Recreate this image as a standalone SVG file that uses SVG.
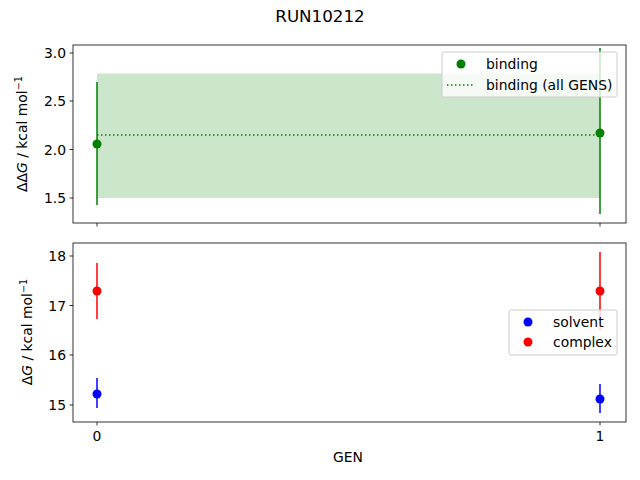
<svg xmlns="http://www.w3.org/2000/svg" width="640" height="480" viewBox="0 0 640 480">
<style>
text{font-family:"DejaVu Sans",sans-serif;font-size:13.9px;fill:#000}
.ax{fill:none;stroke:#000;stroke-width:0.8}
.tk{stroke:#000;stroke-width:0.8}
.leg{fill:#fff;fill-opacity:0.8;stroke:#ccc;stroke-width:1}
</style>
<rect width="640" height="480" fill="#fff"/>
<text x="320" y="22" text-anchor="middle" style="font-size:16.7px">RUN10212</text>
<g id="top-axes">
<rect x="97" y="73.5" width="503" height="124.5" fill="#008000" fill-opacity="0.2"/>
<line x1="97" y1="135" x2="600" y2="135" stroke="#008000" stroke-width="1.5" stroke-dasharray="1.5,2.5"/>
<line x1="97" y1="82" x2="97" y2="205" stroke="#008000" stroke-width="1.5"/>
<line x1="600" y1="48" x2="600" y2="214" stroke="#008000" stroke-width="1.5"/>
<circle cx="97" cy="144" r="4.5" fill="#008000"/>
<circle cx="600" cy="133" r="4.5" fill="#008000"/>
<rect class="ax" x="73" y="45" width="553" height="178"/>
<g class="tk"><line x1="69.5" y1="53" x2="73" y2="53"/><line x1="69.5" y1="101" x2="73" y2="101"/><line x1="69.5" y1="149.5" x2="73" y2="149.5"/><line x1="69.5" y1="198" x2="73" y2="198"/><line x1="97" y1="223" x2="97" y2="226.5"/><line x1="600" y1="223" x2="600" y2="226.5"/></g>
<g text-anchor="end"><text x="66" y="58">3.0</text><text x="66" y="106">2.5</text><text x="66" y="154.5">2.0</text><text x="66" y="203">1.5</text></g>
<text transform="translate(27,134) rotate(-90)" text-anchor="middle">ΔΔ<tspan font-style="italic">G</tspan> / kcal mol<tspan dy="-5" style="font-size:9.7px">−1</tspan></text>
<g id="legend-top">
<rect class="leg" x="442" y="52" width="175" height="45" rx="2"/>
<circle cx="461" cy="64" r="4.5" fill="#008000"/>
<text x="486" y="69">binding</text>
<line x1="447" y1="85" x2="475" y2="85" stroke="#008000" stroke-width="1.5" stroke-dasharray="1.5,2.5"/>
<text x="486" y="90">binding (all GENS)</text>
</g>
</g>
<g id="bottom-axes">
<line x1="97" y1="263" x2="97" y2="319" stroke="#ff0000" stroke-width="1.5"/>
<line x1="600" y1="252" x2="600" y2="330" stroke="#ff0000" stroke-width="1.5"/>
<line x1="97" y1="378" x2="97" y2="408" stroke="#0000ff" stroke-width="1.5"/>
<line x1="600" y1="384" x2="600" y2="413" stroke="#0000ff" stroke-width="1.5"/>
<circle cx="97" cy="291" r="4.5" fill="#ff0000"/>
<circle cx="600" cy="291" r="4.5" fill="#ff0000"/>
<circle cx="97" cy="394" r="4.5" fill="#0000ff"/>
<circle cx="600" cy="399" r="4.5" fill="#0000ff"/>
<rect class="ax" x="73" y="243" width="553" height="179"/>
<g class="tk"><line x1="69.5" y1="256" x2="73" y2="256"/><line x1="69.5" y1="305.5" x2="73" y2="305.5"/><line x1="69.5" y1="355" x2="73" y2="355"/><line x1="69.5" y1="405" x2="73" y2="405"/><line x1="97" y1="422" x2="97" y2="425.5"/><line x1="600" y1="422" x2="600" y2="425.5"/></g>
<g text-anchor="end"><text x="66" y="261">18</text><text x="66" y="310.5">17</text><text x="66" y="360">16</text><text x="66" y="410">15</text></g>
<text x="97" y="441" text-anchor="middle">0</text>
<text x="600" y="441" text-anchor="middle">1</text>
<text x="348" y="462" text-anchor="middle">GEN</text>
<text transform="translate(32,332) rotate(-90)" text-anchor="middle">Δ<tspan font-style="italic">G</tspan> / kcal mol<tspan dy="-5" style="font-size:9.7px">−1</tspan></text>
<g id="legend-bottom">
<rect class="leg" x="509" y="310" width="108" height="45" rx="2"/>
<circle cx="528" cy="322" r="4.5" fill="#0000ff"/>
<text x="553" y="327">solvent</text>
<circle cx="528" cy="342" r="4.5" fill="#ff0000"/>
<text x="553" y="347">complex</text>
</g>
</g>
</svg>
